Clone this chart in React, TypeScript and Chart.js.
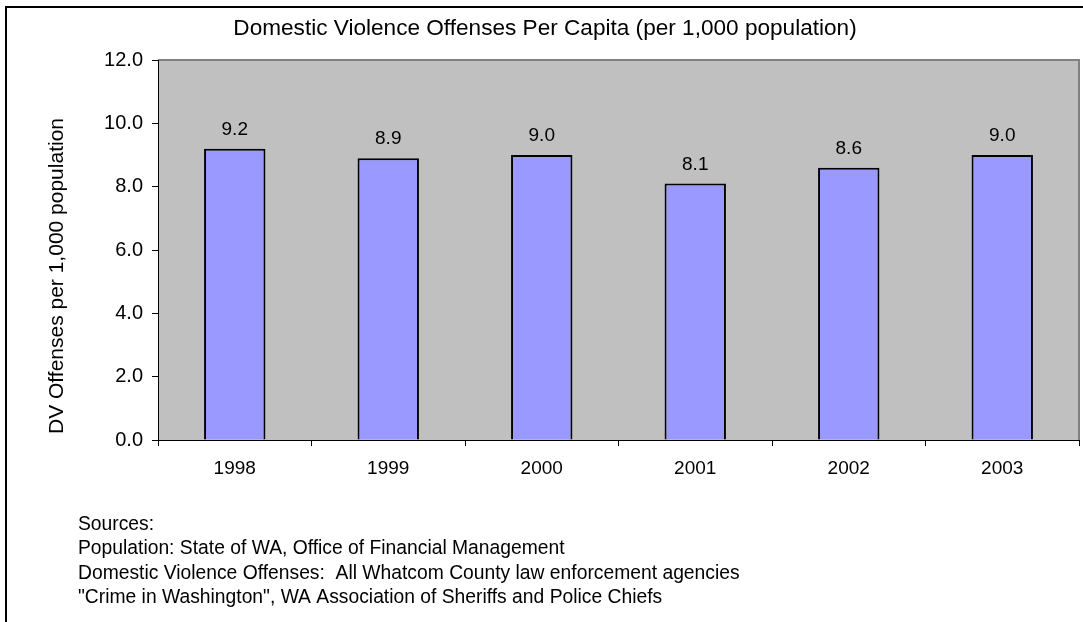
import React, { useEffect, useRef } from "react";
import { Chart, registerables } from "chart.js";

Chart.register(...registerables);

const categories = ["1998", "1999", "2000", "2001", "2002", "2003"];
const offensesPerCapita = [9.2, 8.9, 9.0, 8.1, 8.6, 9.0];
const yMin = 0;
const yMax = 12;
const yStep = 2;
const chartTitle = "Domestic Violence Offenses Per Capita (per 1,000 population)";
const yAxisTitle = "DV Offenses per 1,000 population";
const sourceLines = [
  "Sources:",
  "Population: State of WA, Office of Financial Management",
  "Domestic Violence Offenses:  All Whatcom County law enforcement agencies",
  "\"Crime in Washington\", WA Association of Sheriffs and Police Chiefs",
];

const FONT = "Arial, 'Liberation Sans', sans-serif";

const decorPlugin = {
  id: "decor",
  beforeDraw(chart: any) {
    const { ctx, chartArea } = chart;
    ctx.save();
    ctx.fillStyle = "#ffffff";
    ctx.fillRect(0, 0, chart.width, chart.height);
    // outer border
    ctx.strokeStyle = "#000000";
    ctx.lineWidth = 2;
    ctx.strokeRect(6, 7, chart.width + 10, chart.height + 10);
    // plot background
    ctx.fillStyle = "#c0c0c0";
    ctx.fillRect(chartArea.left, chartArea.top, chartArea.right - chartArea.left, chartArea.bottom - chartArea.top);
    // top & right border gray
    ctx.strokeStyle = "#808080";
    ctx.lineWidth = 2;
    ctx.beginPath();
    ctx.moveTo(chartArea.left, chartArea.top);
    ctx.lineTo(chartArea.right, chartArea.top);
    ctx.lineTo(chartArea.right, chartArea.bottom);
    ctx.stroke();
    // title
    ctx.fillStyle = "#000000";
    ctx.font = `22.6px ${FONT}`;
    ctx.textAlign = "center";
    ctx.textBaseline = "alphabetic";
    ctx.fillText(chartTitle, 545, 35);
    // y axis title
    ctx.save();
    ctx.translate(63, 276);
    ctx.rotate(-Math.PI / 2);
    ctx.font = `21px ${FONT}`;
    ctx.textAlign = "center";
    ctx.textBaseline = "alphabetic";
    ctx.fillText(yAxisTitle, 0, 0);
    ctx.restore();
    // sources
    ctx.font = `19.3px ${FONT}`;
    ctx.textAlign = "left";
    ctx.textBaseline = "alphabetic";
    sourceLines.forEach((line, i) => {
      ctx.fillText(line, 78, 530 + i * 24.3);
    });
    ctx.restore();
  },
  afterDatasetsDraw(chart: any) {
    const { ctx } = chart;
    const meta = chart.getDatasetMeta(0);
    const data = chart.data.datasets[0].data as number[];
    ctx.save();
    ctx.fillStyle = "#000000";
    ctx.font = `19px ${FONT}`;
    ctx.textAlign = "center";
    ctx.textBaseline = "alphabetic";
    meta.data.forEach((el: any, i: number) => {
      ctx.fillText(data[i].toFixed(1), el.x, el.y - 14);
    });
    ctx.restore();
  },
};

export default function App() {
  const canvasRef = useRef<HTMLCanvasElement | null>(null);

  useEffect(() => {
    document.body.style.margin = "0";
    const canvas = canvasRef.current;
    if (!canvas) return;
    const chart = new Chart(canvas, {
      type: "bar",
      data: {
        labels: categories,
        datasets: [
          {
            data: offensesPerCapita,
            backgroundColor: "#9999ff",
            borderColor: "#000000",
            borderWidth: 2,
            categoryPercentage: 1,
            barPercentage: 0.4,
          },
        ],
      },
      options: {
        animation: false,
        responsive: false,
        devicePixelRatio: 1,
        layout: { padding: { left: 0, right: 4, top: 60, bottom: 0 } },
        plugins: {
          legend: { display: false },
          tooltip: { enabled: false },
          title: { display: false },
        },
        scales: {
          x: {
            grid: {
              offset: true,
              drawOnChartArea: false,
              drawTicks: true,
              tickLength: 6,
              color: "#000000",
              lineWidth: 1,
            },
            border: { display: true, color: "#000000", width: 1 },
            ticks: {
              color: "#000000",
              font: { family: FONT, size: 19 },
              padding: 11,
              maxRotation: 0,
            },
            afterFit: (scale: any) => {
              scale.height = 182;
            },
          },
          y: {
            min: yMin,
            max: yMax,
            grid: {
              drawOnChartArea: false,
              drawTicks: true,
              tickLength: 6,
              color: "#000000",
              lineWidth: 1,
            },
            border: { display: true, color: "#000000", width: 1 },
            ticks: {
              stepSize: yStep,
              color: "#000000",
              font: { family: FONT, size: 20 },
              padding: 9,
              callback: (v: any) => Number(v).toFixed(1),
            },
            afterFit: (scale: any) => {
              scale.width = 158;
            },
          },
        },
      },
      plugins: [decorPlugin],
    });
    return () => chart.destroy();
  }, []);

  return (
    <div style={{ position: "absolute", left: 0, top: 0, width: 1083, height: 622 }}>
      <canvas ref={canvasRef} width={1083} height={622} style={{ width: 1083, height: 622, display: "block" }} />
    </div>
  );
}
